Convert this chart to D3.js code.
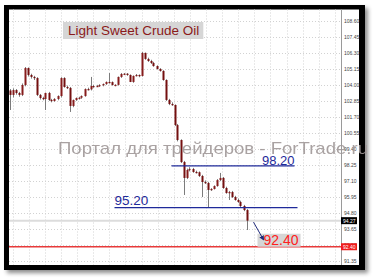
<!DOCTYPE html>
<html>
<head>
<meta charset="utf-8">
<script src="https://cdn.jsdelivr.net/npm/d3@7"></script>
<style>
  body { margin: 0; background: #fff; }
  svg { display: block; font-family: "Liberation Sans", Arial, sans-serif; }
</style>
</head>
<body>
<svg id="chart"></svg>
<script>
const width = 374;
const height = 280;

// [open, high, low, close]
const candles = [
  [103.60, 103.70, 102.20, 103.28], [103.28, 103.75, 103.10, 103.63], [103.63, 103.70, 103.30, 103.42],
  [103.42, 103.50, 103.15, 103.28], [103.28, 104.10, 103.20, 103.99], [103.99, 105.28, 103.90, 105.21],
  [105.21, 105.25, 104.60, 104.71], [104.71, 104.80, 104.45, 104.57], [104.57, 104.65, 104.35, 104.49],
  [104.49, 104.55, 103.20, 103.28], [103.28, 103.35, 102.95, 103.06], [103.06, 103.15, 102.90, 102.99],
  [102.99, 103.45, 102.20, 103.42], [103.42, 103.50, 102.85, 102.92], [102.92, 103.00, 102.75, 102.84],
  [102.84, 103.05, 102.80, 102.99], [102.99, 103.25, 102.90, 103.20], [103.20, 104.55, 103.10, 104.49],
  [104.49, 104.55, 103.80, 103.85], [103.85, 103.95, 103.70, 103.78], [103.78, 103.85, 102.06, 102.49],
  [102.49, 102.95, 102.40, 102.92], [102.92, 103.10, 102.85, 103.06], [103.06, 103.15, 102.95, 103.08],
  [103.08, 103.25, 103.00, 103.20], [103.20, 103.75, 103.15, 103.70], [103.70, 103.80, 103.60, 103.68],
  [103.68, 104.57, 103.60, 103.92], [103.92, 104.00, 103.80, 103.90], [103.90, 104.00, 103.85, 103.92],
  [103.92, 104.05, 103.85, 103.99], [103.99, 104.10, 103.90, 104.06], [104.06, 104.25, 104.00, 104.21],
  [104.21, 104.85, 104.10, 104.20], [104.20, 104.25, 103.95, 103.99], [103.99, 104.05, 103.90, 104.00],
  [104.00, 104.60, 103.95, 104.57], [104.57, 104.85, 104.50, 104.78], [104.78, 104.85, 104.70, 104.80],
  [104.80, 104.85, 104.65, 104.71], [104.71, 104.75, 104.20, 104.21], [104.21, 104.68, 104.15, 104.64],
  [104.64, 104.78, 104.60, 104.71], [104.71, 104.75, 104.55, 104.64], [104.64, 106.36, 104.60, 106.29],
  [106.29, 106.32, 105.80, 105.86], [105.86, 105.95, 105.65, 105.71], [105.71, 105.80, 105.50, 105.57],
  [105.57, 105.65, 105.30, 105.35], [105.35, 105.40, 105.10, 105.14], [105.14, 105.20, 104.95, 105.00],
  [105.00, 105.05, 104.30, 104.35], [104.35, 104.40, 102.85, 102.92], [102.92, 103.00, 102.55, 102.63],
  [102.63, 102.75, 102.50, 102.56], [102.56, 102.60, 101.05, 101.12], [101.12, 101.20, 99.95, 100.05],
  [100.05, 100.10, 98.40, 98.47], [98.47, 98.55, 96.11, 97.33], [97.33, 98.00, 97.25, 97.90],
  [97.90, 98.10, 97.80, 97.97], [97.97, 98.05, 97.70, 97.76], [97.76, 97.85, 97.65, 97.74],
  [97.74, 97.80, 97.40, 97.47], [97.47, 97.55, 95.96, 97.04], [97.04, 97.15, 96.90, 96.97],
  [96.97, 97.05, 95.18, 96.47], [96.47, 96.60, 96.40, 96.54], [96.54, 96.80, 96.50, 96.75],
  [96.75, 97.25, 96.70, 97.18], [97.18, 97.69, 97.10, 97.33], [97.33, 97.40, 96.55, 96.61],
  [96.61, 96.70, 96.20, 96.25], [96.25, 96.40, 95.75, 96.32], [96.32, 96.40, 95.90, 95.96],
  [95.96, 96.05, 95.70, 95.75], [95.75, 95.85, 95.55, 95.61], [95.61, 95.70, 95.25, 95.32],
  [95.32, 95.40, 94.95, 95.03], [95.03, 95.10, 93.60, 94.27]
];

const priceTicks = [108.60, 107.45, 106.30, 105.15, 104.00, 102.85, 101.70, 100.55,
                    99.40, 98.25, 97.10, 95.95, 94.80, 93.65, 92.50, 91.35];

const title = "Light Sweet Crude Oil";
const watermark = "Портал для трейдеров - ForTrade.ru";

// horizontal levels: value, first and last candle slot they span
const resistance = { value: 98.20, from: 54, to: 95 };
const support = { value: 95.20, from: 35, to: 96 };
const bidPrice = 94.27;
const targetPrice = 92.40;

const svg = d3.select("#chart")
    .attr("width", width)
    .attr("height", height);

// frame with shadow
const defs = svg.append("defs");
const shadow = defs.append("filter").attr("id", "shadow")
    .attr("x", "-5%").attr("y", "-5%").attr("width", "115%").attr("height", "115%");
shadow.append("feDropShadow")
    .attr("dx", 3).attr("dy", 3).attr("stdDeviation", 2)
    .attr("flood-color", "#000").attr("flood-opacity", 0.45);

svg.append("rect")
    .attr("x", 4).attr("y", 5).attr("width", 361).attr("height", 265)
    .attr("fill", "#000")
    .attr("filter", "url(#shadow)");
svg.append("rect")
    .attr("x", 9).attr("y", 9.5).attr("width", 350).attr("height", 255.5)
    .attr("fill", "#fff");

const plot = { left: 9, right: 341, top: 9.5, bottom: 265 };

const xScale = d3.scaleLinear()
    .domain([0, 110])
    .range([9.5, 339.5]);

const yScale = d3.scaleLinear()
    .domain([91.35, 108.60])
    .range([261.4, 20.7]);

// grid
const grid = svg.append("g");
grid.selectAll(".hgrid")
    .data(priceTicks)
    .enter()
    .append("line")
    .attr("x1", plot.left).attr("x2", plot.right)
    .attr("y1", d => Math.round(yScale(d)) + 0.5)
    .attr("y2", d => Math.round(yScale(d)) + 0.5)
    .attr("stroke", "#d2d2d2")
    .attr("stroke-dasharray", "1,2");

//vertical grid every ~5.37 slots
const vgrid = d3.range(1.07, 110, 5.37);
grid.selectAll(".vgrid")
    .data(vgrid)
    .enter()
    .append("line")
    .attr("x1", d => Math.round(xScale(d)) + 0.5)
    .attr("x2", d => Math.round(xScale(d)) + 0.5)
    .attr("y1", plot.top).attr("y2", plot.bottom)
    .attr("stroke", "#d2d2d2")
    .attr("stroke-dasharray", "1,2");

// price axis
svg.append("line")
    .attr("x1", plot.right + 0.5).attr("x2", plot.right + 0.5)
    .attr("y1", plot.top).attr("y2", plot.bottom)
    .attr("stroke", "#9a9a9a");

svg.selectAll(".tick-label")
    .data(priceTicks)
    .enter()
    .append("text")
    .attr("x", plot.right + 3)
    .attr("y", d => yScale(d) + 2)
    .attr("font-size", 5)
    .attr("fill", "#444")
    .text(d => d.toFixed(2));

// bid line
svg.append("line")
    .attr("x1", plot.left).attr("x2", plot.right)
    .attr("y1", yScale(bidPrice)).attr("y2", yScale(bidPrice))
    .attr("stroke", "#dcdcdc").attr("stroke-width", 2);

// title
const titleG = svg.append("g");
const titleText = titleG.append("text")
    .attr("x", 68).attr("y", 35)
    .attr("font-size", 13.5)
    .attr("fill", "#8b1a1a")
    .text(title);
const tw = titleText.node().getComputedTextLength();
titleG.insert("rect", "text")
    .attr("x", 63).attr("y", 22)
    .attr("width", tw + 9).attr("height", 17)
    .attr("fill", "#d6d6d6");

// candles
const candleG = svg.append("g");
candleG.selectAll(".wick")
    .data(candles)
    .enter()
    .append("line")
    .attr("x1", (d, i) => Math.round(xScale(i)) + 0.5)
    .attr("x2", (d, i) => Math.round(xScale(i)) + 0.5)
    .attr("y1", d => yScale(d[1]))
    .attr("y2", d => yScale(d[2]))
    .attr("stroke", "#7c7c7c");

candleG.selectAll(".body")
    .data(candles)
    .enter()
    .append("rect")
    .attr("x", (d, i) => Math.round(xScale(i)) - 0.5)
    .attr("y", d => yScale(Math.max(d[0], d[3])))
    .attr("width", 2)
    .attr("height", d => Math.max(1.2, Math.abs(yScale(d[0]) - yScale(d[3]))))
    .attr("fill", d => d[3] >= d[0] ? "#861c1c" : "#741010");

// levels
[resistance, support].forEach(lv => {
    svg.append("line")
        .attr("x1", xScale(lv.from)).attr("x2", xScale(lv.to))
        .attr("y1", yScale(lv.value)).attr("y2", yScale(lv.value))
        .attr("stroke", "#1f2a9a").attr("stroke-width", 1.3);
});
svg.append("text")
    .attr("x", xScale(resistance.to)).attr("y", yScale(resistance.value) - 1)
    .attr("text-anchor", "end")
    .attr("font-size", 13)
    .attr("fill", "#1f2a9a")
    .text(resistance.value.toFixed(2));
svg.append("text")
    .attr("x", xScale(support.from)).attr("y", yScale(support.value) - 2.5)
    .attr("font-size", 13.5)
    .attr("fill", "#1f2a9a")
    .text(support.value.toFixed(2));

// target line
svg.append("line")
    .attr("x1", plot.left).attr("x2", plot.right)
    .attr("y1", yScale(targetPrice)).attr("y2", yScale(targetPrice))
    .attr("stroke", "#e83a3a").attr("stroke-width", 1.5);

// axis price boxes
function priceBox(v, bg) {
    const y = yScale(v);
    svg.append("rect")
        .attr("x", plot.right).attr("y", y - 3.5)
        .attr("width", 16).attr("height", 7)
        .attr("fill", bg);
    svg.append("text")
        .attr("x", plot.right + 2).attr("y", y + 2)
        .attr("font-size", 5)
        .attr("fill", "#fff")
        .text(v.toFixed(2));
}
priceBox(bidPrice, "#000");
priceBox(targetPrice, "#f01c1c");

// target label + arrow
const lastX = xScale(candles.length - 1);
const tgG = svg.append("g");
const tgText = tgG.append("text")
    .attr("x", lastX + 17).attr("y", yScale(targetPrice) - 1.5)
    .attr("font-size", 14)
    .attr("fill", "#ff2020")
    .text(targetPrice.toFixed(2));
const tgw = tgText.node().getComputedTextLength();
tgG.insert("rect", "text")
    .attr("x", lastX + 11).attr("y", yScale(targetPrice) - 13)
    .attr("width", tgw + 8).attr("height", 13)
    .attr("fill", "#d6d6d6");

defs.append("marker")
    .attr("id", "arrow")
    .attr("viewBox", "0 0 10 10")
    .attr("refX", 8).attr("refY", 5)
    .attr("markerWidth", 5).attr("markerHeight", 5)
    .attr("orient", "auto")
    .append("path")
    .attr("d", "M0,0 L10,5 L0,10 z")
    .attr("fill", "#1f2a7a");
svg.append("line")
    .attr("x1", lastX + 7).attr("y1", yScale(bidPrice) + 1.5)
    .attr("x2", lastX + 17).attr("y2", yScale(targetPrice) - 7)
    .attr("stroke", "#1f2a7a").attr("stroke-width", 1)
    .attr("marker-end", "url(#arrow)");

// watermark
svg.append("text")
    .attr("x", 58).attr("y", 154)
    .attr("font-size", 17)
    .attr("fill", "#a09898")
    .attr("opacity", 0.9)
    .attr("textLength", 310)
    .attr("lengthAdjust", "spacingAndGlyphs")
    .text(watermark);
</script>
</body>
</html>
